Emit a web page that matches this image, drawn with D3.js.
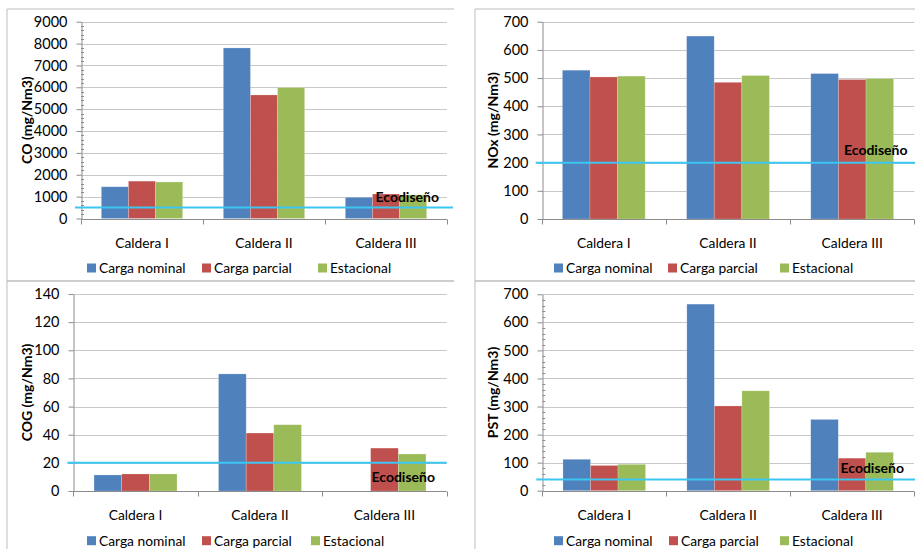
<!DOCTYPE html>
<html>
<head>
<meta charset="utf-8">
<script src="https://cdn.jsdelivr.net/npm/d3@7"></script>
<style>
  html, body { margin: 0; padding: 0; background: #fff; }
  svg { display: block; font-family: Lato, "Open Sans", sans-serif; }
</style>
</head>
<body>
<svg id="chart" width="915" height="549"></svg>
<script>
// ---------- DATA ----------
const categories = ["Caldera I", "Caldera II", "Caldera III"];
const seriesNames = ["Carga nominal", "Carga parcial", "Estacional"];
const seriesColors = ["#4f81bd", "#c0504d", "#9bbb59"];

const coNominal    = [1450, 7800, 970];
const coParcial    = [1710, 5650, 1120];
const coEstacional = [1670, 5990, 1080];

const noxNominal    = [528, 649, 516];
const noxParcial    = [504, 485, 495];
const noxEstacional = [507, 509, 498];

const cogNominal    = [11.4, 83.2, null];
const cogParcial    = [12.1, 41.2, 30.5];
const cogEstacional = [12.1, 47.1, 26.3];

const pstNominal    = [112, 665, 254];
const pstParcial    = [90, 302, 116];
const pstEstacional = [94, 356, 137];

const coTicks  = [0, 1000, 2000, 3000, 4000, 5000, 6000, 7000, 8000, 9000];
const noxTicks = [0, 100, 200, 300, 400, 500, 600, 700];
const cogTicks = [0, 20, 40, 60, 80, 100, 120, 140];
const pstTicks = [0, 100, 200, 300, 400, 500, 600, 700];

const yLabels = ["CO (mg/Nm3)", "NOx (mg/Nm3)", "COG (mg/Nm3)", "PST (mg/Nm3)"];
const limits = [500, 200, 20, 40];
const limitLabel = "Ecodiseño";

// ---------- LAYOUT ----------
const panels = [
  { series: [coNominal, coParcial, coEstacional], ticks: coTicks, minor: 200,
    bx0: 7, by0: 9, bx1: 454, by1: 281,
    axisX: 81, top: 21.7, bottom: 218.5, right: 447, lineExt: 6,
    ylabX: 27, catDy: 24.5, legY: 268, legX: [87, 202, 318],
    ecoX: 439, ecoDy: -10.5 },
  { series: [noxNominal, noxParcial, noxEstacional], ticks: noxTicks, minor: null,
    bx0: 475, by0: 9, bx1: 930, by1: 281,
    axisX: 541.7, top: 21.7, bottom: 219, right: 914.3, lineExt: 6,
    ylabX: 493, catDy: 24.5, legY: 268, legX: [554, 668, 780],
    ecoX: 907.5, ecoDy: -12.5 },
  { series: [cogNominal, cogParcial, cogEstacional], ticks: cogTicks, minor: null,
    bx0: 7, by0: 281, bx1: 454, by1: 560,
    axisX: 73.3, top: 294, bottom: 491, right: 446.7, lineExt: 0,
    ylabX: 27, catDy: 24, legY: 540.7, legX: [87, 202, 311],
    ecoX: 435, ecoDy: 14 },
  { series: [pstNominal, pstParcial, pstEstacional], ticks: pstTicks, minor: 20,
    bx0: 475, by0: 281, bx1: 930, by1: 560,
    axisX: 542.3, top: 294.3, bottom: 490.7, right: 914, lineExt: 6,
    ylabX: 493, catDy: 24, legY: 540.7, legX: [554, 669, 780],
    ecoX: 904, ecoDy: -11.5 }
];

const svg = d3.select("#chart");
const gridColor = "#c8c8c8";
const axisColor = "#8c8c8c";
const borderColor = "#bdbdbd";

// panel borders
panels.forEach(p => {
  svg.append("path")
    .attr("d", `M${p.bx1},${p.by0}H${p.bx0}V${p.by1}H${p.bx1}`)
    .attr("fill", "none").attr("stroke", borderColor).attr("stroke-width", 1);
});

panels.forEach((p, pi) => {
  const g = svg.append("g");
  const ymax = p.ticks[p.ticks.length - 1];
  const y = d3.scaleLinear().domain([0, ymax]).range([p.bottom, p.top]);
  const x0 = d3.scaleBand().domain(categories).range([p.axisX, p.right]).paddingInner(0).paddingOuter(0);
  const x1 = d3.scaleBand().domain(seriesNames).range([0, x0.bandwidth()]).paddingInner(0).paddingOuter(0.75);

  // gridlines
  g.append("g").selectAll("line").data(p.ticks.filter(t => t > 0)).join("line")
    .attr("x1", p.axisX).attr("x2", p.right)
    .attr("y1", d => Math.round(y(d)) + 0.5).attr("y2", d => Math.round(y(d)) + 0.5)
    .attr("stroke", gridColor).attr("stroke-width", 1);

  // minor ticks
  if (p.minor) {
    const minors = d3.range(0, ymax + 1e-9, p.minor).filter(v => p.ticks.indexOf(v) < 0);
    g.append("g").selectAll("line").data(minors).join("line")
      .attr("x1", p.axisX).attr("x2", p.axisX + 3)
      .attr("y1", d => Math.round(y(d)) + 0.5).attr("y2", d => Math.round(y(d)) + 0.5)
      .attr("stroke", axisColor).attr("stroke-width", 1);
  }

  // y axis
  const yAxis = d3.axisLeft(y).tickValues(p.ticks).tickSizeInner(5).tickSizeOuter(0).tickPadding(9)
    .tickFormat(d3.format("d"));
  const ya = g.append("g").attr("transform", `translate(${Math.round(p.axisX) + 0.5},0)`).call(yAxis);
  ya.select(".domain").attr("stroke", axisColor);
  ya.selectAll(".tick line").attr("stroke", axisColor);
  ya.selectAll(".tick text").attr("font-size", 14.5).attr("fill", "#000")
    .attr("font-family", "Lato, 'Open Sans', sans-serif");

  // bars
  p.series.forEach((vals, si) => {
    g.append("g").selectAll("rect")
      .data(categories.map((c, ci) => ({ c, v: vals[ci] })).filter(d => d.v != null))
      .join("rect")
      .attr("x", d => x0(d.c) + x1(seriesNames[si]))
      .attr("width", x1.bandwidth())
      .attr("y", d => y(d.v))
      .attr("height", d => p.bottom - y(d.v))
      .attr("fill", seriesColors[si])
      .attr("stroke", "rgba(255,255,255,0.35)").attr("stroke-width", 0.6);
  });

  // x axis line and category ticks
  const by = Math.round(p.bottom) + 0.5;
  g.append("line").attr("x1", p.axisX).attr("x2", p.right).attr("y1", by).attr("y2", by)
    .attr("stroke", axisColor);
  const bounds = categories.map(c => x0(c)).concat([x0.range()[1]]);
  g.append("g").selectAll("line").data(bounds).join("line")
    .attr("x1", d => Math.round(d) + 0.5).attr("x2", d => Math.round(d) + 0.5)
    .attr("y1", by).attr("y2", by + 5).attr("stroke", axisColor);

  // category labels
  g.append("g").selectAll("text").data(categories).join("text")
    .attr("x", d => x0(d) + x0.bandwidth() / 2)
    .attr("y", p.bottom + p.catDy).attr("dy", "0.35em")
    .attr("text-anchor", "middle").attr("font-size", 13.8).attr("fill", "#000")
    .text(d => d);

  // limit line
  const ly = y(limits[pi]);
  g.append("line").attr("x1", p.axisX - 6).attr("x2", p.right + p.lineExt)
    .attr("y1", ly).attr("y2", ly).attr("stroke", "#3cc6f2").attr("stroke-width", 2);
  g.append("text").attr("x", p.ecoX).attr("y", ly + p.ecoDy).attr("dy", "0.35em")
    .attr("text-anchor", "end").attr("font-size", 14).attr("font-weight", "bold")
    .attr("fill", "#000").text(limitLabel);

  // y label
  const cy = (p.top + p.bottom) / 2;
  g.append("text").attr("transform", `translate(${p.ylabX},${cy}) rotate(-90)`)
    .attr("dy", "0.35em").attr("text-anchor", "middle")
    .attr("font-size", 14).attr("font-weight", "bold").attr("fill", "#000")
    .text(yLabels[pi]);

  // legend
  const lg = g.append("g");
  seriesNames.forEach((s, si) => {
    lg.append("rect").attr("x", p.legX[si]).attr("y", p.legY - 4.5).attr("width", 9).attr("height", 9)
      .attr("fill", seriesColors[si]);
    lg.append("text").attr("x", p.legX[si] + 12).attr("y", p.legY).attr("dy", "0.35em")
      .attr("font-size", 13.8).attr("fill", "#000").text(s);
  });
});
</script>
</body>
</html>
